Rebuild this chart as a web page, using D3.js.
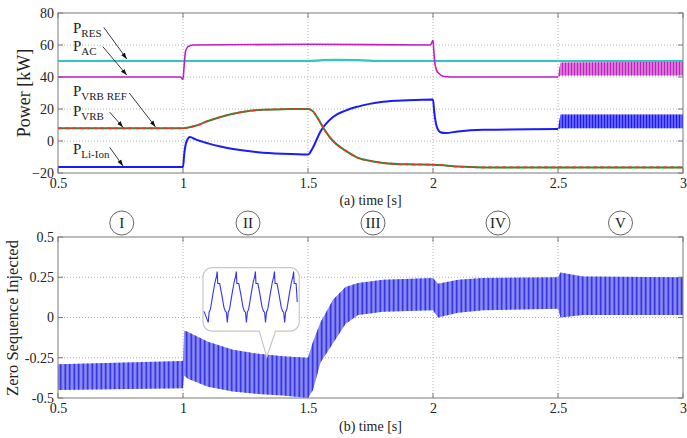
<!DOCTYPE html>
<meta charset="utf-8">
<title>Power and zero sequence</title>
<style>
    body { margin: 0; background: #fff; }
    .frame { fill: none; stroke: #7a7a7a; stroke-width: 1; }
    .grid line { stroke: #b4b4b4; stroke-dasharray: 1,2; }
</style>
<svg width="687" height="438"></svg>
<script src="https://cdnjs.cloudflare.com/ajax/libs/d3/7.8.5/d3.min.js"></script>
<script>

// ---- data ----
var xTicks = [0.5, 1, 1.5, 2, 2.5, 3];
var powerTicks = [-20, 0, 20, 40, 60, 80];
var zsTicks = [-0.5, -0.25, 0, 0.25, 0.5];
var stages = ["I", "II", "III", "IV", "V"];
var stageAt = [0.755, 1.26, 1.76, 2.26, 2.75];

var tRES = [0.5, 1.5, 1.56, 1.62, 1.7, 1.8, 3.0];
var pRES = [50, 50, 50.5, 50.7, 50.5, 50, 50];

var tAC = [0.5, 0.99, 1.0, 1.005, 1.01, 1.02, 1.04, 1.5, 1.99, 2.0, 2.003, 2.008, 2.015, 2.025, 2.04, 2.07, 2.5];
var pAC = [40, 40, 38.5, 48, 56, 59, 60, 60.5, 60, 63, 57, 48, 44, 42, 40.5, 40, 40];
var tACosc = [2.5, 2.51, 3.0];
var acUpper = [41, 49, 49.5];
var acLower = [40, 41, 41];

var tVRB = [0.5, 1.0, 1.05, 1.1, 1.15, 1.2, 1.25, 1.3, 1.4, 1.5, 1.52, 1.54, 1.57, 1.6, 1.65, 1.7, 1.75, 1.8, 1.9, 2.0, 2.05, 2.1, 2.2, 3.0];
var pVRB = [8, 8, 9.5, 12.5, 15, 17, 18.5, 19.3, 19.9, 20, 18.5, 14, 6, 0, -6, -10.5, -12.5, -13.7, -14.6, -14.8, -15.3, -16, -16.5, -16.5];

var tLI = [0.5, 1.0, 1.005, 1.015, 1.028, 1.05, 1.1, 1.15, 1.2, 1.3, 1.4, 1.5, 1.52, 1.55, 1.6, 1.65, 1.7, 1.8, 1.9, 2.0, 2.005, 2.015, 2.03, 2.05, 2.1, 2.2, 2.5];
var pLI = [-16.2, -16.2, -8, 0, 2.5, 1, -1.5, -3.5, -5, -7, -8, -8.5, -4, 6, 15, 19, 21.5, 24.5, 25.5, 26, 18, 9, 5.5, 5, 6, 7, 7.5];
var tLIosc = [2.5, 2.51, 3.0];
var liUpper = [8, 16.5, 16.5];
var liLower = [7.5, 8, 8];

var zsT  = [0.5, 1.0, 1.005, 1.02, 1.1, 1.2, 1.3, 1.4, 1.5, 1.52, 1.55, 1.6, 1.65, 1.7, 1.8, 2.0, 2.02, 2.1, 2.2, 2.5, 2.51, 2.6, 3.0];
var zsUp = [-0.29, -0.27, -0.08, -0.09, -0.15, -0.2, -0.225, -0.24, -0.25, -0.15, -0.03, 0.11, 0.19, 0.215, 0.235, 0.245, 0.21, 0.235, 0.245, 0.25, 0.28, 0.255, 0.25];
var zsLo = [-0.45, -0.44, -0.36, -0.38, -0.43, -0.46, -0.475, -0.485, -0.5, -0.45, -0.28, -0.16, -0.04, 0.015, 0.035, 0.045, 0.0, 0.03, 0.045, 0.055, 0.0, 0.015, 0.015];

// one period of the zoomed waveform in the callout, shown 5 times
var insetPhase = [0, 0.05, 0.12, 0.25, 0.36, 0.43, 0.47, 0.5, 0.6, 0.7, 0.82, 0.9, 0.95];
var insetValue = [-1.0, -0.6, -0.47, 0.13, 0.6, 0.8, 1.0, 0.53, 0.53, 0.13, -0.4, -0.57, -0.6];
var insetCycles = 5;

// ---- layout ----
var serif = "Liberation Serif, DejaVu Serif, serif";
var svg = d3.select("svg").attr("font-family", serif);
var left = 58, right = 683;

var x = d3.scaleLinear().domain([0.5, 3]).range([left, right]);
var yP = d3.scaleLinear().domain([-20, 80]).range([173, 13]);
var yZ = d3.scaleLinear().domain([-0.5, 0.5]).range([398, 237]);

var defs = svg.append("defs");
defs.append("marker")
    .attr("id", "arrow").attr("viewBox", "0 0 10 10")
    .attr("refX", 10).attr("refY", 5)
    .attr("markerWidth", 7).attr("markerHeight", 7)
    .attr("orient", "auto")
  .append("path").attr("d", "M0,1.5 L10,5 L0,8.5 Z").attr("fill", "#111");

function stripes(id, w, color, sw) {
    var p = defs.append("pattern").attr("id", id)
        .attr("patternUnits", "userSpaceOnUse")
        .attr("width", w).attr("height", 400);
    p.append("line").attr("x1", w / 2).attr("x2", w / 2).attr("y1", 0).attr("y2", 400)
        .attr("stroke", color).attr("stroke-width", sw);
}
stripes("stAC", 3, "#c21fc2", 1.6);
stripes("stLI", 3, "#1a1aff", 1.6);
stripes("stZS", 4.5, "#2424dd", 1.5);

function panel(y, ticks, fmt) {
    var g = svg.append("g");
    var top = y.range()[1], bottom = y.range()[0];
    g.append("g").attr("class", "grid")
        .selectAll("line").data(xTicks.slice(1, -1)).enter().append("line")
        .attr("x1", x).attr("x2", x).attr("y1", top).attr("y2", bottom);
    g.append("g").attr("class", "grid")
        .selectAll("line").data(ticks.slice(1, -1)).enter().append("line")
        .attr("x1", left).attr("x2", right).attr("y1", y).attr("y2", y);

    var ax = g.append("g").attr("transform", "translate(0," + bottom + ")")
        .call(d3.axisBottom(x).tickValues(xTicks).tickSize(0).tickPadding(5).tickFormat(d3.format("")));
    ax.select(".domain").remove();
    var ay = g.append("g").attr("transform", "translate(" + left + ",0)")
        .call(d3.axisLeft(y).tickValues(ticks).tickSize(0).tickPadding(4).tickFormat(fmt));
    ay.select(".domain").remove();
    ax.attr("font-family", serif).attr("font-size", 14);
    ay.attr("font-family", serif).attr("font-size", 14);
    g.selectAll(".tick text").attr("fill", "#222");

    // inward ticks on all four sides
    var tk = g.append("g").attr("stroke", "#7a7a7a");
    xTicks.forEach(function(d) {
        tk.append("line").attr("x1", x(d)).attr("x2", x(d)).attr("y1", bottom).attr("y2", bottom - 5);
        tk.append("line").attr("x1", x(d)).attr("x2", x(d)).attr("y1", top).attr("y2", top + 5);
    });
    ticks.forEach(function(d) {
        tk.append("line").attr("x1", left).attr("x2", left + 5).attr("y1", y(d)).attr("y2", y(d));
        tk.append("line").attr("x1", right).attr("x2", right - 5).attr("y1", y(d)).attr("y2", y(d));
    });
    return g;
}

panel(yP, powerTicks, d3.format(""));
panel(yZ, zsTicks, function(d) { return d === 0 ? "0" : String(d); });

function zip(ts, vs) { return ts.map(function(t, i) { return [t, vs[i]]; }); }
function zip3(ts, a, b) { return ts.map(function(t, i) { return [t, a[i], b[i]]; }); }

var lineP = d3.line().x(function(d) { return x(d[0]); }).y(function(d) { return yP(d[1]); }).curve(d3.curveMonotoneX);
var areaP = d3.area().x(function(d) { return x(d[0]); })
    .y0(function(d) { return yP(d[2]); }).y1(function(d) { return yP(d[1]); });

var marks = svg.append("g");

// P_RES
marks.append("path").attr("d", lineP(zip(tRES, pRES)))
    .attr("fill", "none").attr("stroke", "#2ec8bc").attr("stroke-width", 2.2);
// P_AC
marks.append("path").attr("d", lineP(zip(tAC, pAC)))
    .attr("fill", "none").attr("stroke", "#c21fc2").attr("stroke-width", 1.6);
marks.append("path").attr("d", areaP(zip3(tACosc, acUpper, acLower))).attr("fill", "#e39be3");
marks.append("path").attr("d", areaP(zip3(tACosc, acUpper, acLower))).attr("fill", "url(#stAC)");
// P_Li-Ion
marks.append("path").attr("d", lineP(zip(tLI, pLI)))
    .attr("fill", "none").attr("stroke", "#1a1aff").attr("stroke-width", 2);
marks.append("path").attr("d", areaP(zip3(tLIosc, liUpper, liLower))).attr("fill", "#7f7fff");
marks.append("path").attr("d", areaP(zip3(tLIosc, liUpper, liLower))).attr("fill", "url(#stLI)");
// P_VRB and reference
marks.append("path").attr("d", lineP(zip(tVRB, pVRB)))
    .attr("fill", "none").attr("stroke", "#2e8a2e").attr("stroke-width", 2);
marks.append("path").attr("d", lineP(zip(tVRB, pVRB)))
    .attr("fill", "none").attr("stroke", "#ff2a2a").attr("stroke-width", 1.6).attr("stroke-dasharray", "4,3");

// zero sequence band
var areaZ = d3.area().x(function(d) { return x(d[0]); })
    .y0(function(d) { return yZ(d[2]); }).y1(function(d) { return yZ(d[1]); });
var zs = zip3(zsT, zsUp, zsLo);
marks.append("path").attr("d", areaZ(zs)).attr("fill", "#8a8af2");
marks.append("path").attr("d", areaZ(zs)).attr("fill", "url(#stZS)");

// frames on top
svg.append("rect").attr("class", "frame").attr("x", left).attr("y", yP(80))
    .attr("width", right - left).attr("height", yP(-20) - yP(80));
svg.append("rect").attr("class", "frame").attr("x", left).attr("y", yZ(0.5))
    .attr("width", right - left).attr("height", yZ(-0.5) - yZ(0.5));

// series labels with arrows
var labels = [
    { sub: "RES",     t: 0.56, v: 67.5, from: [0.683, 71],  to: [0.775, 51.3] },
    { sub: "AC",      t: 0.56, v: 56,   from: [0.679, 59],  to: [0.775, 41.2] },
    { sub: "VRB REF", t: 0.56, v: 28,   from: [0.785, 30],  to: [0.89, 8.8] },
    { sub: "VRB",     t: 0.56, v: 15.5, from: [0.707, 18],  to: [0.76, 8.6] },
    { sub: "Li-Ion",  t: 0.56, v: -8.3, from: [0.707, -4],  to: [0.76, -15.6] }
];
labels.forEach(function(d) {
    var t = svg.append("text").attr("x", x(d.t)).attr("y", yP(d.v))
        .attr("fill", "#222").attr("font-size", 15);
    t.append("tspan").text("P");
    t.append("tspan").attr("dy", 4).attr("font-size", 11).text(d.sub);
    svg.append("line")
        .attr("x1", x(d.from[0])).attr("y1", yP(d.from[1]))
        .attr("x2", x(d.to[0])).attr("y2", yP(d.to[1]))
        .attr("stroke", "#222").attr("stroke-width", 0.9).attr("marker-end", "url(#arrow)");
});

// axis titles
svg.append("text").attr("transform", "translate(30,93) rotate(-90)")
    .attr("text-anchor", "middle").attr("fill", "#222").attr("font-size", 18).text("Power [kW]");
svg.append("text").attr("transform", "translate(18,318) rotate(-90)")
    .attr("text-anchor", "middle").attr("fill", "#222").attr("font-size", 16.5).text("Zero Sequence Injected");
svg.append("text").attr("x", (left + right) / 2).attr("y", 205)
    .attr("text-anchor", "middle").attr("fill", "#222").attr("font-size", 14).text("(a) time [s]");
svg.append("text").attr("x", (left + right) / 2).attr("y", 431)
    .attr("text-anchor", "middle").attr("fill", "#222").attr("font-size", 14).text("(b) time [s]");

// stage markers
var st = svg.append("g").selectAll("g").data(stages).enter().append("g")
    .attr("transform", function(d, i) { return "translate(" + x(stageAt[i]) + ",223)"; });
st.append("circle").attr("r", 12).attr("fill", "#fff").attr("stroke", "#555").attr("stroke-width", 0.9);
st.append("text").attr("text-anchor", "middle").attr("dy", "0.35em").attr("fill", "#222")
    .attr("font-size", 15).text(function(d) { return d; });

// callout with zoomed waveform
var bx0 = x(1.08), bx1 = x(1.465), by0 = yZ(0.31), by1 = yZ(-0.085), r = 9;
var px0 = x(1.305), px1 = x(1.37), tipX = x(1.335), tipY = yZ(-0.245);
var callout = d3.path();
callout.moveTo(bx0 + r, by0);
callout.lineTo(bx1 - r, by0);
callout.arcTo(bx1, by0, bx1, by0 + r, r);
callout.lineTo(bx1, by1 - r);
callout.arcTo(bx1, by1, bx1 - r, by1, r);
callout.lineTo(px1, by1);
callout.lineTo(tipX, tipY);
callout.lineTo(px0, by1);
callout.lineTo(bx0 + r, by1);
callout.arcTo(bx0, by1, bx0, by1 - r, r);
callout.lineTo(bx0, by0 + r);
callout.arcTo(bx0, by0, bx0 + r, by0, r);
callout.closePath();
svg.append("path").attr("d", callout.toString())
    .attr("fill", "#fff").attr("stroke", "#c8c8c8").attr("stroke-width", 1.2);

var insetPts = [[-0.22, -0.57]];
for (var k = 0; k < insetCycles; k++) {
    insetPhase.forEach(function(p, i) { insetPts.push([k + p, insetValue[i]]); });
}
insetPts = insetPts.filter(function(d) { return d[0] <= 4.66; });
insetPts.push([4.66, -0.2]);
var ix = d3.scaleLinear().domain([-0.22, 4.66]).range([bx0 + 1, bx1 - 2]);
var iy = d3.scaleLinear().domain([-1, 1]).range([yZ(-0.03), yZ(0.285)]);
svg.append("path")
    .attr("d", d3.line().x(function(d) { return ix(d[0]); }).y(function(d) { return iy(d[1]); })(insetPts))
    .attr("fill", "none").attr("stroke", "#3434ee").attr("stroke-width", 1.1);

</script>
